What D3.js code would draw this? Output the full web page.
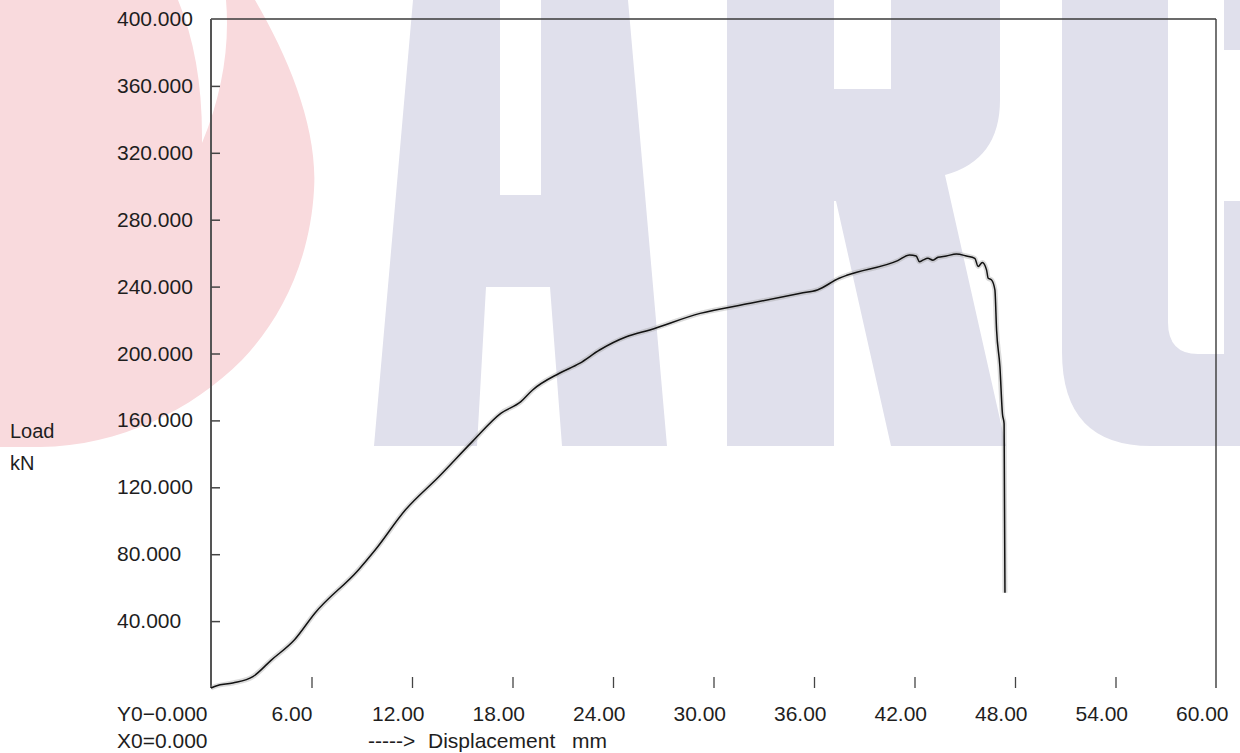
<!DOCTYPE html>
<html>
<head>
<meta charset="utf-8">
<script src="https://cdn.jsdelivr.net/npm/d3@7"></script>
<style>
  html, body { margin: 0; padding: 0; background: #fff; }
  svg { display: block; }
  text { font-family: "Liberation Sans", Arial, sans-serif; fill: #1e1e1e; }
</style>
</head>
<body>
<svg id="chart" width="1240" height="753"></svg>
<script>
// ---- data ----
const displacement = [0, 0.3, 1.3, 2.5, 3.6, 5.0, 6.2, 8.8, 9.8, 11.6, 13.6, 15.6, 17.3, 18.5, 19.2, 20.8, 22.0, 23.2, 24.8, 26.2, 29.2, 32.2, 35.2, 36.2, 37.5, 38.0, 41.0, 41.7, 42.1, 42.3, 42.5, 42.8, 43.1, 43.4, 43.9, 44.5, 45.1, 45.6, 45.8, 46.05, 46.3, 46.4, 46.6, 46.8, 46.9, 47.1, 47.25, 47.35, 47.4];
const load         = [0, 1.2, 3.0, 6.8, 16.7, 29.0, 44.7, 70.6, 82.5, 106.4, 126.3, 147.3, 164.2, 171.2, 178.2, 188.2, 194.1, 202.1, 210.0, 214.1, 224.0, 230.0, 236.0, 238.0, 245.0, 246.9, 255.5, 258.9, 258.3, 254.8, 255.8, 256.9, 255.8, 257.5, 258.3, 259.5, 258.3, 256.9, 252.0, 254.4, 250.0, 245.0, 244.0, 238.0, 214.0, 192.0, 164.0, 158.0, 57.0];
const yTickValues = [40, 80, 120, 160, 200, 240, 280, 320, 360, 400];
const yTickLabels = ["40.000", "80.000", "120.000", "160.000", "200.000", "240.000", "280.000", "320.000", "360.000", "400.000"];
const xTickValues = [6, 12, 18, 24, 30, 36, 42, 48, 54, 60];
const xTickLabels = ["6.00", "12.00", "18.00", "24.00", "30.00", "36.00", "42.00", "48.00", "54.00", "60.00"];
const yAxisTitle = ["Load", "kN"];
const xAxisTitle = ["----->", "Displacement", "mm"];
const originLabels = ["Y0\u22120.000", "X0=0.000"];

// ---- layout ----
const svg = d3.select("#chart");
const pLeft = 211, pRight = 1216, pTop = 19, pBottom = 688;
const x = d3.scaleLinear().domain([0, 60]).range([pLeft, pRight]);
const y = d3.scaleLinear().domain([0, 400]).range([pBottom, pTop]);

// ---- background watermark (decorative) ----
const wm = svg.append("g").attr("class", "watermark");
// pink disc with a thin crescent notch (single shape, no white overlay)
wm.append("path").attr("fill", "#f9dadd")
  .attr("d", "M0,0 L178,0 Q203,60 202,143 Q232,70 226,0 L255,0 C290,60 318,130 314,190 C310,260 282,318 242,360 C192,410 120,446 40,447 L0,447 L0,0 Z");
const lav = "#e0e0ec";
// A
wm.append("path").attr("fill", lav)
  .attr("d", "M374,446 L413,0 L500,0 L500,195 L541,195 L541,0 L628,0 L667,446 L562,446 L550,287 L486,287 L477,446 Z");
// R
wm.append("path").attr("fill", lav)
  .attr("d", "M727,0 L834,0 L834,89 L891,89 L891,0 L1000,0 L1000,100 Q1000,160 945,175 L1006,446 L891,446 L836,201 L834,201 L834,446 L727,446 Z");
// C
wm.append("path").attr("fill", lav)
  .attr("d", "M1062,0 L1168,0 L1168,322 Q1168,354 1198,354 L1224,354 L1224,201 L1240,201 L1240,446 L1151,446 Q1062,446 1062,352 Z");
wm.append("rect").attr("x", 1224).attr("y", 0).attr("width", 16).attr("height", 50).attr("fill", lav);

// ---- frame ----
svg.append("line").attr("x1", pLeft).attr("x2", pRight).attr("y1", pTop).attr("y2", pTop)
  .attr("stroke", "#3a3a3a").attr("stroke-width", 1.4);
svg.append("line").attr("x1", pRight).attr("x2", pRight).attr("y1", pTop).attr("y2", pBottom)
  .attr("stroke", "#3a3a3a").attr("stroke-width", 1.4);
svg.append("line").attr("x1", pLeft).attr("x2", pLeft).attr("y1", pTop).attr("y2", pBottom)
  .attr("stroke", "#555").attr("stroke-width", 2);

// ---- y ticks (inside) ----
const yAxis = svg.append("g").attr("transform", `translate(${pLeft},0)`)
  .call(d3.axisRight(y).tickValues(yTickValues.filter(v => v < 400)).tickSize(9).tickFormat(""));
yAxis.select(".domain").remove();
yAxis.selectAll(".tick line").attr("stroke", "#444").attr("stroke-width", 1.5);

// y labels (left aligned)
svg.append("g").selectAll("text").data(yTickValues).join("text")
  .attr("x", 117).attr("y", d => y(d) + 7)
  .attr("font-size", 21)
  .text((d, i) => yTickLabels[i]);

// ---- x ticks (short marks above baseline, no baseline drawn) ----
const xAxis = svg.append("g").attr("transform", `translate(0,${pBottom})`)
  .call(d3.axisTop(x).tickValues(xTickValues.filter(v => v < 60)).tickSize(11).tickFormat(""));
xAxis.select(".domain").remove();
xAxis.selectAll(".tick line").attr("stroke", "#444").attr("stroke-width", 1.3);

svg.append("g").selectAll("text").data(xTickValues).join("text")
  .attr("x", d => x(d) - 40).attr("y", 721)
  .attr("font-size", 21)
  .text((d, i) => xTickLabels[i]);

// ---- titles ----
svg.append("text").attr("x", 117).attr("y", 721).attr("font-size", 21).text(originLabels[0]);
svg.append("text").attr("x", 117).attr("y", 748).attr("font-size", 21).text(originLabels[1]);
svg.append("text").attr("x", 10).attr("y", 438).attr("font-size", 20).text(yAxisTitle[0]);
svg.append("text").attr("x", 10).attr("y", 470).attr("font-size", 20).text(yAxisTitle[1]);
const xt = svg.append("text").attr("y", 748).attr("font-size", 21);
xt.append("tspan").attr("x", 368).text(xAxisTitle[0]);
xt.append("tspan").attr("x", 428).text(xAxisTitle[1]);
xt.append("tspan").attr("x", 572).text(xAxisTitle[2]);

// ---- curve ----
const pts = displacement.map((d, i) => [d, load[i]]);
const line = d3.line().curve(d3.curveMonotoneX).x(d => x(d[0])).y(d => y(d[1]));
svg.append("path").datum(pts).attr("d", line)
  .attr("fill", "none").attr("stroke", "#999").attr("stroke-opacity", 0.35)
  .attr("stroke-width", 5).attr("stroke-linejoin", "round");
svg.append("path").datum(pts).attr("d", line)
  .attr("fill", "none").attr("stroke", "#111").attr("stroke-width", 1.5)
  .attr("stroke-linejoin", "round");
</script>
</body>
</html>
